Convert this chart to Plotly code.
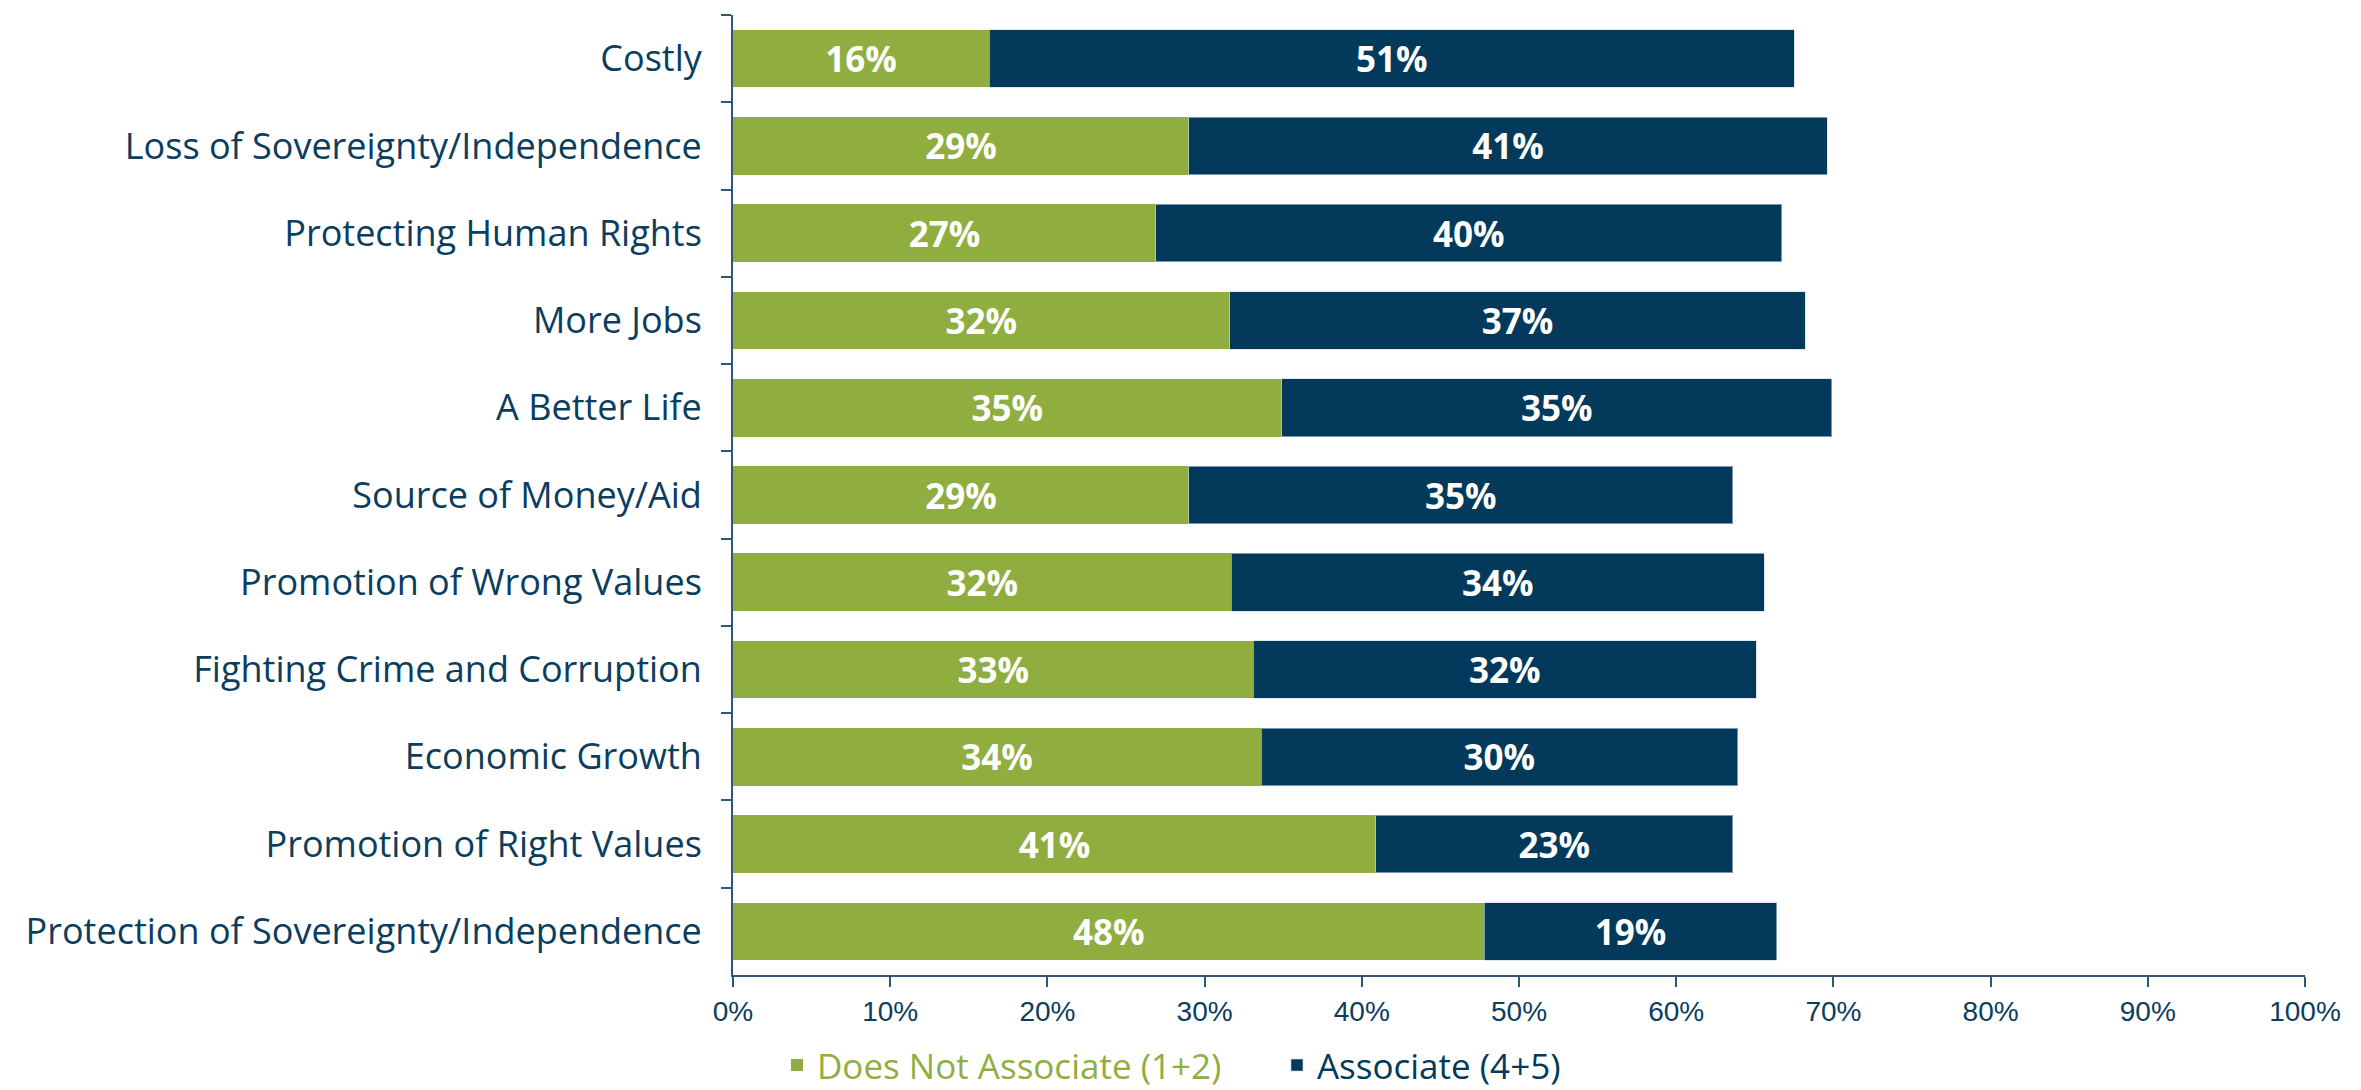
import plotly.graph_objects as go

categories = [
    "Costly",
    "Loss of Sovereignty/Independence",
    "Protecting Human Rights",
    "More Jobs",
    "A Better Life",
    "Source of Money/Aid",
    "Promotion of Wrong Values",
    "Fighting Crime and Corruption",
    "Economic Growth",
    "Promotion of Right Values",
    "Protection of Sovereignty/Independence",
]
does_not_associate = [16.3, 29.0, 26.9, 31.6, 34.9, 29.0, 31.7, 33.1, 33.6, 40.9, 47.8]
associate = [51.2, 40.6, 39.8, 36.6, 35.0, 34.6, 33.9, 32.0, 30.3, 22.7, 18.6]
x_tickvals = [0, 10, 20, 30, 40, 50, 60, 70, 80, 90, 100]
x_ticktext = ["0%", "10%", "20%", "30%", "40%", "50%", "60%", "70%", "80%", "90%", "100%"]
series_names = ["Does Not Associate (1+2)", "Associate (4+5)"]

GREEN = "#8FAE3F"
NAVY = "#033A5B"
TEXT = "#0B3D5E"
AXIS = "#2E5675"
FONT = "Open Sans, Noto Sans, sans-serif"
TICKFONT = "Liberation Sans, Arial, sans-serif"

fig = go.Figure()
fig.add_trace(go.Bar(
    y=categories, x=does_not_associate, orientation="h",
    name=f"<span style='color:{GREEN}'>{series_names[0]}</span>",
    marker=dict(color=GREEN, line=dict(width=0)),
    texttemplate="%{x:.0f}%", textposition="inside", insidetextanchor="middle",
    textfont=dict(color="white", size=35, family=FONT, weight="bold"),
    constraintext="none",
))
fig.add_trace(go.Bar(
    y=categories, x=associate, orientation="h",
    name=f"<span style='color:{NAVY}'>{series_names[1]}</span>",
    marker=dict(color=NAVY, line=dict(width=1, color="rgba(200,215,225,0.6)")),
    texttemplate="%{x:.0f}%", textposition="inside", insidetextanchor="middle",
    textfont=dict(color="white", size=35, family=FONT, weight="bold"),
    constraintext="none",
))

fig.update_layout(
    width=2361, height=1090,
    barmode="stack", bargap=0.34,
    plot_bgcolor="white", paper_bgcolor="white",
    margin=dict(l=725, r=64, t=7, b=123),
    font=dict(family=FONT, color=TEXT),
    showlegend=True,
    legend=dict(
        orientation="h", xref="container", yref="container",
        x=0.3257, xanchor="left", y=0.03, yanchor="middle",
        font=dict(size=35, family=FONT, color=TEXT),
        traceorder="normal",
        entrywidth=455, entrywidthmode="pixels",
    ),
)
fig.update_xaxes(
    range=[0, 100], tickvals=x_tickvals, ticktext=x_ticktext,
    showgrid=False, zeroline=False,
    showline=True, linecolor=AXIS, linewidth=2,
    ticks="outside", ticklen=10, tickwidth=2, tickcolor=AXIS,
    tickfont=dict(size=28, family=TICKFONT, color=TEXT),
    ticklabelstandoff=0,
)
fig.update_yaxes(
    autorange="reversed", showgrid=False, zeroline=False,
    showline=True, linecolor=AXIS, linewidth=2,
    ticks="outside", ticklen=10, tickwidth=2, tickcolor=AXIS,
    tickson="boundaries",
    tickfont=dict(size=36, family=FONT, color=TEXT),
    ticklabelstandoff=22,
)

fig.write_html("out.html")
